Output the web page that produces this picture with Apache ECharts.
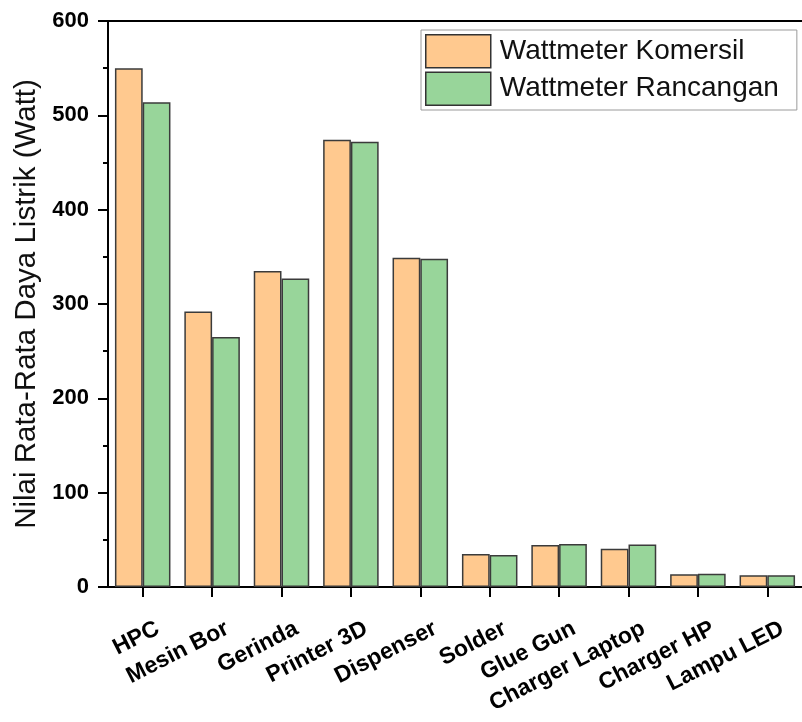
<!DOCTYPE html>
<html>
<head>
<meta charset="utf-8">
<script src="https://cdn.jsdelivr.net/npm/echarts@6/dist/echarts.min.js"></script>
<style>
  html, body { margin: 0; padding: 0; background: #fff; }
  #main { width: 802px; height: 722px; }
</style>
</head>
<body>
<div id="main"></div>
<script>
// data
const categories = ['HPC', 'Mesin Bor', 'Gerinda', 'Printer 3D', 'Dispenser', 'Solder', 'Glue Gun', 'Charger Laptop', 'Charger HP', 'Lampu LED'];
const komersil = [550, 292, 335, 474, 349, 35, 44.5, 40.5, 13.5, 12.5];
const rancangan = [514, 265, 327, 472, 348, 34, 45.5, 45, 14, 12.5];
const seriesNames = ['Wattmeter Komersil', 'Wattmeter Rancangan'];
const yTitle = 'Nilai Rata-Rata Daya Listrik (Watt)';

const myChart = echarts.init(document.getElementById('main'));
const font = 'Arial, "Liberation Sans", sans-serif';

let option = {
    backgroundColor: '#fff',
    animation: false,
    textStyle: { fontFamily: font },
    grid: {
        left: 108,
        top: 21,
        bottom: 135,
        width: 702   // right side is cut off in the original
    },
    legend: {
        data: seriesNames,
        icon: 'rect',
        orient: 'vertical',
        left: 421,
        top: 30,
        padding: [4, 18, 4, 4],
        itemWidth: 65,
        itemHeight: 33,
        itemGap: 3,
        borderColor: '#9a9a9a',
        borderWidth: 1,
        backgroundColor: '#fff',
        itemStyle: { borderColor: '#333', borderWidth: 1.5 },
        textStyle: { fontSize: 28, color: '#111', fontFamily: font, padding: [0, 0, 0, 4] }
    },
    xAxis: [
        {
            type: 'category',
            data: categories,
            position: 'bottom',
            axisLine: { show: true, lineStyle: { color: '#000', width: 2 } },
            axisTick: { show: true, interval: 0, alignWithLabel: true, inside: false, length: 10, lineStyle: { color: '#000', width: 2 } },
            axisLabel: {
                rotate: 27,
                margin: 48,
                padding: [0, -17, 0, 0],
                interval: 0,
                fontSize: 23,
                fontWeight: 'bold',
                color: '#000'
            }
        },
        {
            type: 'category',
            data: categories,
            position: 'top',
            axisLine: { lineStyle: { color: '#000', width: 2 } },
            axisTick: { show: false },
            axisLabel: { show: false }
        }
    ],
    yAxis: {
        type: 'value',
        min: 0,
        max: 600,
        interval: 100,
        name: yTitle,
        nameLocation: 'middle',
        nameGap: 66,
        nameTextStyle: { fontSize: 29.5, color: '#111', fontFamily: font },
        axisLine: { show: true, lineStyle: { color: '#000', width: 2 } },
        axisTick: { show: true, length: 10, lineStyle: { color: '#000', width: 2 } },
        minorTick: { show: true, splitNumber: 2, length: 5, lineStyle: { color: '#000', width: 2 } },
        splitLine: { show: false },
        axisLabel: { margin: 19, fontSize: 22, fontWeight: 'bold', color: '#000' }
    },
    series: [
        {
            name: seriesNames[0],
            type: 'bar',
            data: komersil,
            barGap: '0%',
            barCategoryGap: '20%',
            itemStyle: { color: '#FFC98F', borderColor: '#3b3b3b', borderWidth: 1.5 }
        },
        {
            name: seriesNames[1],
            type: 'bar',
            data: rancangan,
            itemStyle: { color: '#98D59A', borderColor: '#3b3b3b', borderWidth: 1.5 }
        }
    ]
};
option && myChart.setOption(option);
</script>
</body>
</html>
